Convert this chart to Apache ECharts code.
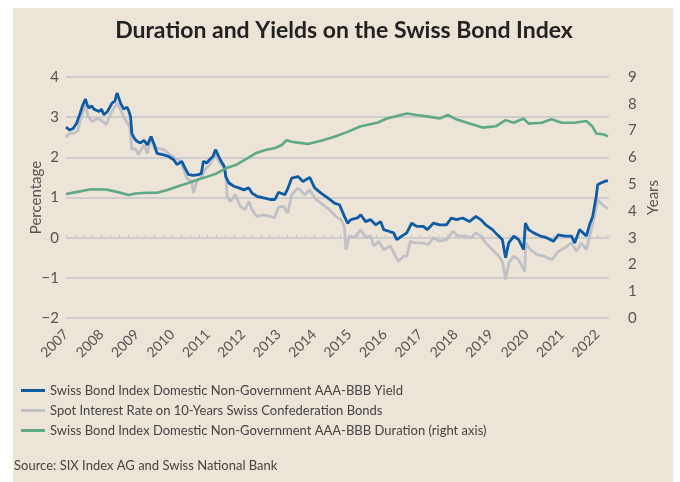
<!DOCTYPE html>
<html lang="en">
<head>
    <meta charset="utf-8">
    <script src="https://cdn.jsdelivr.net/npm/echarts@6.0.0/dist/echarts.min.js"></script>
    <style>
        body { margin:0; background:#fff; }
        .panel { position:absolute; left:13px; top:8px; width:660px; height:474px; background:#ece4d6; }
        #main { position:absolute; left:0; top:0; width:680px; height:482px; }
    </style>
</head>
<body>
<div class="panel"></div>
<div id="main"></div>
<script type="text/javascript">
    // [year, %] swiss bond index yield
    var yieldPts = [[2007.0,2.75],[2007.1,2.68],[2007.2,2.72],[2007.3,2.85],[2007.4,3.1],[2007.46,3.27],[2007.55,3.45],[2007.6,3.3],[2007.65,3.23],[2007.72,3.28],[2007.79,3.2],[2007.93,3.14],[2008.0,3.2],[2008.07,3.06],[2008.17,3.14],[2008.3,3.35],[2008.38,3.4],[2008.44,3.6],[2008.48,3.5],[2008.54,3.35],[2008.63,3.2],[2008.72,3.25],[2008.77,3.16],[2008.82,3.02],[2008.86,2.6],[2008.9,2.52],[2008.95,2.45],[2009.0,2.4],[2009.1,2.36],[2009.2,2.42],[2009.3,2.31],[2009.4,2.52],[2009.5,2.3],[2009.57,2.1],[2009.76,2.06],[2009.9,2.02],[2010.04,1.94],[2010.13,1.82],[2010.27,1.9],[2010.36,1.73],[2010.46,1.57],[2010.6,1.55],[2010.74,1.57],[2010.82,1.6],[2010.88,1.9],[2010.97,1.86],[2011.05,1.94],[2011.15,2.02],[2011.22,2.19],[2011.29,2.06],[2011.38,1.9],[2011.47,1.77],[2011.51,1.52],[2011.6,1.36],[2011.74,1.28],[2011.88,1.24],[2012.02,1.19],[2012.16,1.24],[2012.25,1.11],[2012.39,1.03],[2012.58,0.99],[2012.76,0.95],[2012.9,0.95],[2013.0,1.13],[2013.18,1.07],[2013.27,1.24],[2013.37,1.48],[2013.55,1.52],[2013.69,1.4],[2013.88,1.5],[2014.02,1.24],[2014.2,1.11],[2014.39,0.99],[2014.58,0.86],[2014.72,0.82],[2014.86,0.53],[2014.95,0.36],[2015.04,0.45],[2015.23,0.49],[2015.32,0.57],[2015.46,0.4],[2015.6,0.45],[2015.74,0.32],[2015.88,0.4],[2015.97,0.2],[2016.11,0.16],[2016.25,0.12],[2016.34,-0.05],[2016.48,0.04],[2016.62,0.12],[2016.76,0.36],[2016.9,0.28],[2017.09,0.28],[2017.2,0.2],[2017.37,0.36],[2017.55,0.32],[2017.74,0.32],[2017.88,0.49],[2018.02,0.45],[2018.2,0.49],[2018.39,0.4],[2018.57,0.53],[2018.71,0.45],[2018.85,0.32],[2019.04,0.2],[2019.18,0.07],[2019.32,-0.05],[2019.41,-0.5],[2019.5,-0.13],[2019.64,0.04],[2019.78,-0.05],[2019.92,-0.3],[2019.97,0.36],[2020.06,0.2],[2020.2,0.12],[2020.39,0.04],[2020.57,0.0],[2020.76,-0.09],[2020.9,0.07],[2021.09,0.04],[2021.27,0.04],[2021.36,-0.13],[2021.5,0.2],[2021.69,0.04],[2021.78,0.32],[2021.87,0.53],[2021.97,1.03],[2022.01,1.32],[2022.1,1.36],[2022.2,1.4],[2022.3,1.42]];
    // [year, %] spot rate 10y confederation bonds
    var spotPts = [[2007.0,2.5],[2007.1,2.6],[2007.2,2.6],[2007.33,2.65],[2007.46,3.1],[2007.55,3.3],[2007.62,3.02],[2007.75,2.89],[2007.9,2.98],[2008.04,2.89],[2008.13,2.81],[2008.27,3.1],[2008.44,3.35],[2008.54,3.18],[2008.68,2.93],[2008.8,2.77],[2008.86,2.19],[2008.95,2.23],[2009.04,2.06],[2009.2,2.31],[2009.3,2.1],[2009.4,2.52],[2009.5,2.19],[2009.57,2.23],[2009.76,2.19],[2009.95,2.06],[2010.09,1.98],[2010.23,1.9],[2010.32,1.69],[2010.41,1.48],[2010.55,1.4],[2010.6,1.11],[2010.69,1.4],[2010.83,1.52],[2010.92,1.69],[2011.06,1.82],[2011.2,2.06],[2011.29,1.94],[2011.38,1.82],[2011.5,1.69],[2011.55,1.03],[2011.64,0.9],[2011.78,1.07],[2011.92,0.78],[2012.06,0.7],[2012.16,0.9],[2012.25,0.7],[2012.39,0.53],[2012.58,0.57],[2012.76,0.53],[2012.88,0.49],[2013.0,0.76],[2013.14,0.78],[2013.26,0.61],[2013.37,1.07],[2013.55,1.24],[2013.74,1.07],[2013.88,1.19],[2014.06,0.95],[2014.25,0.82],[2014.43,0.7],[2014.62,0.53],[2014.76,0.45],[2014.86,0.28],[2014.9,-0.3],[2015.0,0.04],[2015.14,0.0],[2015.32,0.2],[2015.46,0.0],[2015.6,0.04],[2015.69,-0.21],[2015.83,-0.09],[2015.97,-0.3],[2016.16,-0.21],[2016.3,-0.46],[2016.39,-0.59],[2016.53,-0.46],[2016.62,-0.46],[2016.72,-0.09],[2016.86,-0.13],[2017.04,-0.13],[2017.23,-0.17],[2017.37,0.0],[2017.55,-0.09],[2017.74,-0.05],[2017.93,0.16],[2018.06,0.04],[2018.25,0.04],[2018.43,0.0],[2018.57,0.12],[2018.71,0.04],[2018.85,-0.13],[2019.04,-0.3],[2019.18,-0.42],[2019.32,-0.59],[2019.41,-1.04],[2019.5,-0.63],[2019.64,-0.46],[2019.78,-0.55],[2019.95,-0.84],[2019.98,-0.13],[2020.11,-0.3],[2020.3,-0.42],[2020.48,-0.46],[2020.72,-0.55],[2020.9,-0.34],[2021.09,-0.25],[2021.27,-0.13],[2021.41,-0.34],[2021.55,-0.13],[2021.69,-0.3],[2021.83,0.2],[2021.92,0.53],[2022.01,0.95],[2022.1,0.86],[2022.2,0.78],[2022.3,0.72]];
    // [year, years] duration, right axis
    var durationPts = [[2007.0,4.63],[2007.33,4.71],[2007.7,4.81],[2008.13,4.8],[2008.44,4.71],[2008.77,4.59],[2008.95,4.65],[2009.3,4.68],[2009.57,4.68],[2009.86,4.78],[2010.13,4.9],[2010.41,5.02],[2010.69,5.15],[2010.97,5.27],[2011.25,5.4],[2011.51,5.59],[2011.79,5.71],[2012.07,5.92],[2012.35,6.15],[2012.63,6.27],[2012.9,6.35],[2013.09,6.46],[2013.23,6.64],[2013.37,6.58],[2013.55,6.55],[2013.83,6.5],[2014.2,6.62],[2014.58,6.77],[2014.95,6.95],[2015.32,7.16],[2015.79,7.29],[2016.06,7.45],[2016.34,7.54],[2016.62,7.64],[2016.9,7.58],[2017.28,7.51],[2017.55,7.45],[2017.78,7.58],[2018.02,7.42],[2018.39,7.26],[2018.76,7.11],[2019.13,7.16],[2019.41,7.39],[2019.64,7.29],[2019.92,7.45],[2020.06,7.26],[2020.43,7.29],[2020.71,7.42],[2020.99,7.29],[2021.36,7.29],[2021.69,7.36],[2021.87,7.14],[2021.97,6.89],[2022.2,6.85],[2022.3,6.78]];

    var names = ['Swiss Bond Index Domestic Non-Government AAA-BBB Yield',
                 'Spot Interest Rate on 10-Years Swiss Confederation Bonds',
                 'Swiss Bond Index Domestic Non-Government AAA-BBB Duration (right axis)'];
    var colors = ['#0d5ba5', '#c0c1c6', '#5fa987'];

    var font = 'Lato, "Open Sans", sans-serif';
    var gridColor = '#c6c6ca';

    var myChart = echarts.init(document.getElementById('main'), null, {renderer:'canvas'});
    myChart.setOption({
        backgroundColor: 'transparent',
        animation: false,
        graphic: [
            {type:'text', x:344, y:31, style:{text:'Duration and Yields on the Swiss Bond Index',
                font:'bold 23px ' + font, fill:'#222', align:'center', verticalAlign:'middle'}},
            {type:'text', x:14, y:466, style:{text:'Source: SIX Index AG and Swiss National Bank',
                font:'13px ' + font, fill:'#444', verticalAlign:'middle'}}
        ],
        grid: { left:66, right:71, top:77, bottom:164 },
        legend: {
            orient:'vertical', left:16, top:379, itemWidth:24, itemHeight:3, itemGap:7,
            icon:'rect', data: names,
            textStyle:{ fontFamily:font, fontSize:13, color:'#444' }
        },
        xAxis: {
            type:'value', min:2007, max:2022.33, interval:1,
            axisLine:{show:false},
            axisTick:{show:true, inside:true, length:3, lineStyle:{color:gridColor}},
            minorTick:{show:true, splitNumber:4, length:3, lineStyle:{color:gridColor}},
            splitLine:{show:false},
            axisLabel:{
                rotate:45, margin:14, fontFamily:font, fontSize:14, color:'#555',
                showMaxLabel:false,
                formatter:function (v) { return Math.abs(v - Math.round(v)) < 1e-6 ? String(Math.round(v)) : ''; }
            }
        },
        yAxis: [{
            type:'value', min:-2, max:4, interval:1, position:'left',
            name:'Percentage', nameLocation:'middle', nameGap:22, nameMoveOverlap:false,
            nameTextStyle:{fontFamily:font, fontSize:15, color:'#555'},
            axisLine:{show:false}, axisTick:{show:false},
            axisLabel:{fontFamily:font, fontSize:15, color:'#555', margin:7,
                formatter:function (v) { return v < 0 ? '\u2212' + Math.abs(v) : String(v); }},
            splitLine:{show:true, lineStyle:{color:gridColor, width:1.5}}
        }, {
            type:'value', min:0, max:9, interval:1, position:'right',
            name:'Years', nameLocation:'middle', nameGap:37, nameRotate:90, nameMoveOverlap:false,
            nameTextStyle:{fontFamily:font, fontSize:15, color:'#555'},
            axisLine:{show:false}, axisTick:{show:false},
            axisLabel:{fontFamily:font, fontSize:15, color:'#555', margin:19},
            splitLine:{show:false}
        }],
        series: [{
            name:names[1], type:'line', yAxisIndex:0, data:spotPts, showSymbol:false, symbol:'none',
            lineStyle:{color:colors[1], width:2.8}, itemStyle:{color:colors[1]}, z:2
        }, {
            name:names[0], type:'line', yAxisIndex:0, data:yieldPts, showSymbol:false, symbol:'none',
            lineStyle:{color:colors[0], width:2.8}, itemStyle:{color:colors[0]}, z:3
        }, {
            name:names[2], type:'line', yAxisIndex:1, data:durationPts, showSymbol:false, symbol:'none',
            lineStyle:{color:colors[2], width:2.6}, itemStyle:{color:colors[2]}, z:4
        }]
    });
</script>
</body>
</html>
